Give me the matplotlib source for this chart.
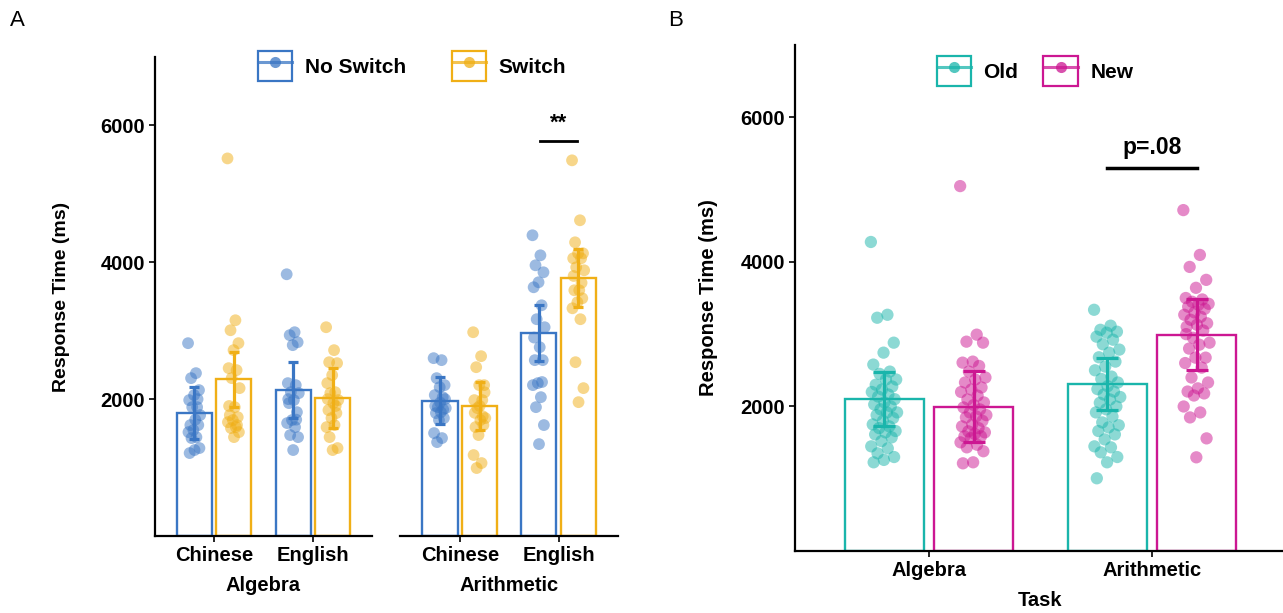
import numpy as np
import matplotlib
matplotlib.use("Agg")
import matplotlib.pyplot as plt
from matplotlib.patches import Rectangle
from matplotlib.lines import Line2D
from matplotlib.legend_handler import HandlerTuple

plt.rcParams['font.family'] = ['Liberation Sans', 'DejaVu Sans']
plt.rcParams['font.weight'] = 'bold'

# ---- panel A data (Algebra / Arithmetic x Chinese / English x No Switch / Switch)
languages = ['Chinese', 'English']
facets = ['Algebra', 'Arithmetic']
cond_a = ['No Switch', 'Switch']

bar_a = {
    ('Algebra', 'No Switch'): [1800, 2130],
    ('Algebra', 'Switch'): [2290, 2015],
    ('Arithmetic', 'No Switch'): [1970, 2965],
    ('Arithmetic', 'Switch'): [1900, 3765],
}
err_lo_a = {
    ('Algebra', 'No Switch'): [1416, 1723],
    ('Algebra', 'Switch'): [1883, 1577],
    ('Arithmetic', 'No Switch'): [1635, 2555],
    ('Arithmetic', 'Switch'): [1547, 3343],
}
err_hi_a = {
    ('Algebra', 'No Switch'): [2175, 2540],
    ('Algebra', 'Switch'): [2686, 2453],
    ('Arithmetic', 'No Switch'): [2321, 3372],
    ('Arithmetic', 'Switch'): [2248, 4190],
}

alg_chi_ns = [2818, 2380, 2307, 2132, 2059, 1986, 1883, 1883, 1767, 1700,
              1621, 1621, 1548, 1518, 1445, 1431, 1285, 1256, 1212, 2000]
alg_chi_sw = [5518, 3153, 3007, 2818, 2716, 2453, 2424, 2307, 2161, 1883,
              1767, 1737, 1694, 1664, 1591, 1577, 1518, 1445, 1900, 1620]
alg_eng_ns = [3825, 2978, 2935, 2832, 2789, 2234, 2205, 2102, 2088, 1986,
              1942, 1810, 1694, 1650, 1591, 1475, 1445, 1256, 2000, 1700]
alg_eng_sw = [3051, 2716, 2540, 2526, 2351, 2234, 2102, 2088, 1986, 1942,
              1840, 1796, 1723, 1591, 1621, 1445, 1285, 1256, 2000, 1900]
ari_chi_ns = [2599, 2570, 2307, 2205, 2175, 2059, 2029, 1883, 1869, 1810,
              1796, 1723, 1694, 1504, 1431, 1372, 2000, 1950, 1900, 1850]
ari_chi_sw = [2978, 2628, 2467, 2205, 2205, 1986, 1986, 1869, 1723, 1694,
              1591, 1621, 1475, 1183, 1066, 993, 2100, 1900, 1800, 1750]
ari_eng_ns = [4395, 4102, 3956, 3854, 3708, 3635, 3372, 3168, 3051, 2759,
              2570, 2570, 2234, 2205, 2029, 1883, 1621, 1343, 2900, 2250]
ari_eng_sw = [5490, 4614, 4292, 4131, 4131, 4058, 4058, 3927, 3883, 3591,
              3591, 3474, 3416, 3328, 3168, 2540, 2161, 1956, 3800, 3700]

points_a = {
    ('Algebra', 'No Switch'): [alg_chi_ns, alg_eng_ns],
    ('Algebra', 'Switch'): [alg_chi_sw, alg_eng_sw],
    ('Arithmetic', 'No Switch'): [ari_chi_ns, ari_eng_ns],
    ('Arithmetic', 'Switch'): [ari_chi_sw, ari_eng_sw],
}

# ---- panel B data (Task x Old / New)
tasks = ['Algebra', 'Arithmetic']
cond_b = ['Old', 'New']
bar_b = {'Old': [2106, 2308], 'New': [1996, 2993]}
err_lo_b = {'Old': [1729, 1945], 'New': [1513, 2510]}
err_hi_b = {'Old': [2483, 2671], 'New': [2488, 3485]}

alg_old = [4275, 3268, 3227, 2882, 2744, 2579, 2482, 2450, 2372, 2372,
           2300, 2275, 2234, 2200, 2165, 2137, 2100, 2055, 2027, 2000,
           1960, 1917, 1917, 1880, 1840, 1800, 1751, 1724, 1700, 1660,
           1641, 1613, 1572, 1520, 1448, 1420, 1351, 1300, 1260, 1227]
alg_new = [5048, 2993, 2896, 2882, 2620, 2606, 2560, 2482, 2400, 2372,
           2331, 2262, 2234, 2200, 2150, 2096, 2055, 2020, 1986, 1958,
           1917, 1880, 1862, 1848, 1800, 1751, 1724, 1700, 1655, 1641,
           1620, 1586, 1586, 1560, 1503, 1470, 1434, 1380, 1227, 1213]
ari_old = [3337, 3117, 3060, 3034, 3020, 2965, 2923, 2860, 2786, 2744,
           2680, 2620, 2551, 2500, 2413, 2380, 2331, 2280, 2240, 2206,
           2165, 2130, 2096, 2050, 1999, 1960, 1917, 1860, 1779, 1740,
           1710, 1660, 1613, 1544, 1448, 1434, 1365, 1300, 1227, 1006]
ari_new = [4716, 4096, 3930, 3751, 3641, 3500, 3480, 3448, 3420, 3406,
           3379, 3350, 3300, 3268, 3241, 3199, 3150, 3130, 3103, 3050,
           2950, 2882, 2854, 2800, 2675, 2675, 2600, 2537, 2400, 2331,
           2250, 2206, 2180, 2151, 1999, 1917, 1848, 1558, 1296, 3000]
points_b = {'Old': [alg_old, ari_old], 'New': [alg_new, ari_new]}

col_a = {'No Switch': '#3a76c4', 'Switch': '#f0af16'}
col_b = {'Old': '#1ab5ab', 'New': '#cc1792'}

W = 1283 / 100
H = 613 / 100
fig = plt.figure(figsize=(W, H), dpi=100)


def px_axes(x0, y0, x1, y1):
    # pixel box (top-left origin) -> figure axes
    return fig.add_axes([x0 / 1283, 1 - y1 / 613, (x1 - x0) / 1283, (y1 - y0) / 613])


def jitter(n, width):
    # fixed spread pattern for the jittered points
    idx = np.arange(n)
    return ((idx * 0.618034) % 1.0 - 0.5) * 2 * width


def style_axis(ax, left=True):
    for s in ['top', 'right']:
        ax.spines[s].set_visible(False)
    ax.spines['bottom'].set_linewidth(1.6)
    ax.spines['left'].set_linewidth(1.6)
    ax.spines['left'].set_visible(left)
    ax.tick_params(axis='both', length=4, width=1.2, labelsize=14.5, pad=3)
    for lab in ax.get_xticklabels() + ax.get_yticklabels():
        lab.set_fontweight('bold')


def draw_group(ax, xs, means, lo, hi, pts, color, capsize, ms, jw):
    ax.bar(xs, means, width=0.355, facecolor='white', edgecolor=color,
           linewidth=1.7, zorder=1)
    for x, vals in zip(xs, pts):
        vals = np.array(vals)
        ax.scatter(x + jitter(len(vals), jw), vals, s=ms, color=color,
                   alpha=0.5, edgecolors='none', zorder=2)
    means = np.array(means)
    yerr = [means - np.array(lo), np.array(hi) - means]
    ax.errorbar(xs, means, yerr=yerr, fmt='none', ecolor=color, elinewidth=2.3,
                capsize=capsize, capthick=2.3, zorder=3)


# ---------------- panel A ----------------
ax_a1 = px_axes(155, 57, 372, 536)
ax_a2 = px_axes(400.5, 57, 618, 536)
xpos = np.arange(1, len(languages) + 1)
for ax, fac in zip([ax_a1, ax_a2], facets):
    for k, c in enumerate(cond_a):
        off = -0.2 if k == 0 else 0.2
        draw_group(ax, xpos + off, bar_a[(fac, c)], err_lo_a[(fac, c)],
                   err_hi_a[(fac, c)], points_a[(fac, c)], col_a[c], 3.5, 72, 0.065)
    ax.set_xlim(0.4, 2.6)
    ax.set_ylim(0, 7000)
    ax.set_xticks(xpos)
    ax.set_xticklabels(languages)
    ax.set_yticks([2000, 4000, 6000])
    ax.set_xlabel(fac, fontsize=14.5, fontweight='bold', labelpad=8)
    style_axis(ax, left=(fac == 'Algebra'))
ax_a2.tick_params(axis='y', left=False, labelleft=False)
ax_a1.set_ylabel('Response Time (ms)', fontsize=14, fontweight='bold', labelpad=22)

# significance marker
ax_a2.plot([2 - 0.19, 2 + 0.19], [5766, 5766], color='black', lw=2, zorder=4)
ax_a2.text(2, 5880, '**', ha='center', va='bottom', fontsize=16, fontweight='bold')

h_a = [(Rectangle((0, 0), 1, 1, facecolor='white', edgecolor=col_a[c], lw=1.6),
        Line2D([], [], color=col_a[c], lw=2.2, marker='o', markersize=8,
               markerfacecolor=col_a[c], markeredgecolor='none', alpha=0.75))
       for c in cond_a]
fig.legend(h_a, cond_a, loc='center', bbox_to_anchor=(412 / 1283, 1 - 66 / 613),
           ncol=2, frameon=False, handlelength=1.65, handleheight=1.8,
           columnspacing=2.2, handletextpad=0.6,
           handler_map={tuple: HandlerTuple(ndivide=1)},
           prop={'weight': 'bold', 'size': 15})

# ---------------- panel B ----------------
ax_b = px_axes(795, 45, 1286, 551)
xpos_b = np.arange(1, len(tasks) + 1)
for k, c in enumerate(cond_b):
    off = -0.2 if k == 0 else 0.2
    draw_group(ax_b, xpos_b + off, bar_b[c], err_lo_b[c], err_hi_b[c],
               points_b[c], col_b[c], 8, 78, 0.06)
ax_b.set_xlim(0.4, 2.6)
ax_b.set_ylim(0, 7000)
ax_b.set_xticks(xpos_b)
ax_b.set_xticklabels(tasks)
ax_b.set_yticks([2000, 4000, 6000])
ax_b.set_xlabel('Task', fontsize=14.5, fontweight='bold', labelpad=8)
ax_b.set_ylabel('Response Time (ms)', fontsize=14.5, fontweight='bold', labelpad=16)
style_axis(ax_b)

ax_b.plot([2 - 0.2, 2 + 0.2], [5297, 5297], color='black', lw=2.5, zorder=4)
ax_b.text(2, 5420, 'p=.08', ha='center', va='bottom', fontsize=16.5, fontweight='bold')

h_b = [(Rectangle((0, 0), 1, 1, facecolor='white', edgecolor=col_b[c], lw=1.6),
        Line2D([], [], color=col_b[c], lw=2.2, marker='o', markersize=8,
               markerfacecolor=col_b[c], markeredgecolor='none', alpha=0.75))
       for c in cond_b]
fig.legend(h_b, cond_b, loc='center', bbox_to_anchor=(1035 / 1283, 1 - 71 / 613),
           ncol=2, frameon=False, handlelength=1.65, handleheight=1.8,
           columnspacing=1.2, handletextpad=0.6,
           handler_map={tuple: HandlerTuple(ndivide=1)},
           prop={'weight': 'bold', 'size': 15})

fig.text(10 / 1283, 1 - 20 / 613, 'A', fontsize=16, fontweight='normal', va='center')
fig.text(668 / 1283, 1 - 20 / 613, 'B', fontsize=16, fontweight='normal', va='center')

fig.savefig('out.png', dpi=100)
